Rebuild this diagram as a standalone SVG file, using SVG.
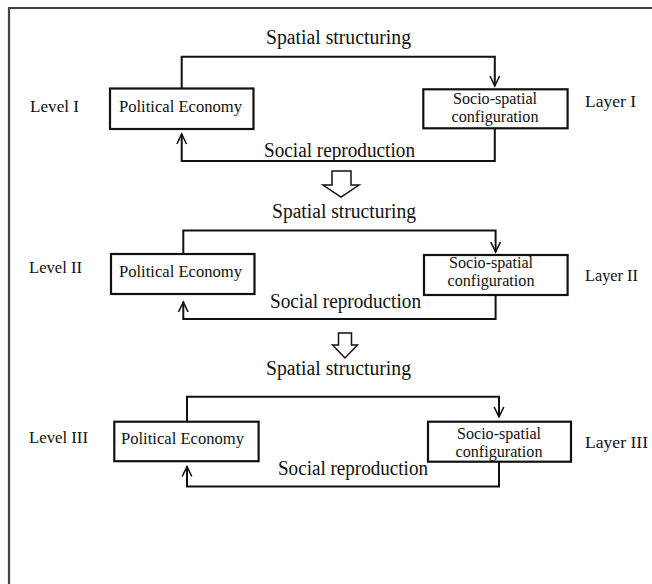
<svg xmlns="http://www.w3.org/2000/svg" width="652" height="584" viewBox="0 0 652 584">
<style>
text{font-family:"Liberation Serif","Times New Roman",serif;fill:#111}
.big{font-size:20px}
.pe{font-size:17px}
.ss{font-size:16px;text-anchor:middle}
.lv{font-size:17px}
.box{fill:#fff;stroke:#111;stroke-width:2.2}
.con{fill:none;stroke:#111;stroke-width:2}
.ah{fill:none;stroke:#111;stroke-width:1.6}
.hol{fill:#fff;stroke:#111;stroke-width:1.5;stroke-linejoin:miter}
.frame{fill:none;stroke:#444;stroke-width:2.2}
</style>
<path class="frame" d="M9,584 V8 H652"/>

<g id="connectors">
  <!-- block 1 -->
  <path class="con" d="M181.7,88.3 V56.7 H494.8 V86"/>
  <path class="ah" d="M490,76 L494.8,86 L499.6,76"/>
  <path class="con" d="M494.8,128.3 V161 H181.7 V134"/>
  <path class="ah" d="M176.9,144 L181.7,134 L186.5,144"/>
  <!-- block 2 -->
  <path class="con" d="M183.3,254 V230.5 H495.6 V252"/>
  <path class="ah" d="M490.8,242 L495.6,252 L500.4,242"/>
  <path class="con" d="M495.6,295 V319 H183.3 V302"/>
  <path class="ah" d="M178.5,312 L183.3,302 L188.1,312"/>
  <!-- block 3 -->
  <path class="con" d="M187,421.7 V396.7 H499 V417"/>
  <path class="ah" d="M494.2,407 L499,417 L503.8,407"/>
  <path class="con" d="M499,461.7 V486.5 H187 V466.5"/>
  <path class="ah" d="M182.2,476.5 L187,466.5 L191.8,476.5"/>
  <!-- transition arrows -->
  <polygon class="hol" points="332,171 351,171 351,185 359,185 341,197 323,185 332,185"/>
  <polygon class="hol" points="338.5,333 351.5,333 351.5,345 357.5,345 345,358 332.5,345 338.5,345"/>
</g>

<g id="labels">
  <text class="big" x="266" y="44" textLength="145" lengthAdjust="spacingAndGlyphs">Spatial structuring</text>
  <text class="big" x="264" y="157" textLength="151" lengthAdjust="spacingAndGlyphs">Social reproduction</text>
  <text class="big" x="272" y="218" textLength="144" lengthAdjust="spacingAndGlyphs">Spatial structuring</text>
  <text class="big" x="270" y="308" textLength="151" lengthAdjust="spacingAndGlyphs">Social reproduction</text>
  <text class="big" x="266" y="375" textLength="145" lengthAdjust="spacingAndGlyphs">Spatial structuring</text>
  <text class="big" x="278" y="475" textLength="150" lengthAdjust="spacingAndGlyphs">Social reproduction</text>
  <text class="lv" x="30" y="111.7" textLength="49" lengthAdjust="spacingAndGlyphs">Level I</text>
  <text class="lv" x="585" y="107" textLength="51" lengthAdjust="spacingAndGlyphs">Layer I</text>
  <text class="lv" x="29" y="273" textLength="53" lengthAdjust="spacingAndGlyphs">Level II</text>
  <text class="lv" x="585" y="281" textLength="53" lengthAdjust="spacingAndGlyphs">Layer II</text>
  <text class="lv" x="29" y="443" textLength="59" lengthAdjust="spacingAndGlyphs">Level III</text>
  <text class="lv" x="585" y="448" textLength="63" lengthAdjust="spacingAndGlyphs">Layer III</text>
</g>

<g id="pe1">
  <rect class="box" x="110" y="88.5" width="143.5" height="40.5"/>
  <text class="pe" x="119" y="112" textLength="123" lengthAdjust="spacingAndGlyphs">Political Economy</text>
</g>
<g id="ss1">
  <rect class="box" x="423.3" y="89.3" width="144.3" height="39"/>
  <text class="ss" x="495" y="104" textLength="84" lengthAdjust="spacingAndGlyphs">Socio-spatial</text>
  <text class="ss" x="495" y="122" textLength="87" lengthAdjust="spacingAndGlyphs">configuration</text>
</g>
<g id="pe2">
  <rect class="box" x="111" y="254" width="143.5" height="40"/>
  <text class="pe" x="119" y="277" textLength="123" lengthAdjust="spacingAndGlyphs">Political Economy</text>
</g>
<g id="ss2">
  <rect class="box" x="424" y="255" width="143.6" height="40"/>
  <text class="ss" x="491" y="268" textLength="84" lengthAdjust="spacingAndGlyphs">Socio-spatial</text>
  <text class="ss" x="491" y="286" textLength="87" lengthAdjust="spacingAndGlyphs">configuration</text>
</g>
<g id="pe3">
  <rect class="box" x="114.3" y="421.7" width="144.3" height="39.5"/>
  <text class="pe" x="121" y="444" textLength="123" lengthAdjust="spacingAndGlyphs">Political Economy</text>
</g>
<g id="ss3">
  <rect class="box" x="428" y="421.7" width="143" height="40"/>
  <text class="ss" x="499" y="439" textLength="84" lengthAdjust="spacingAndGlyphs">Socio-spatial</text>
  <text class="ss" x="499" y="457" textLength="87" lengthAdjust="spacingAndGlyphs">configuration</text>
</g>
</svg>
